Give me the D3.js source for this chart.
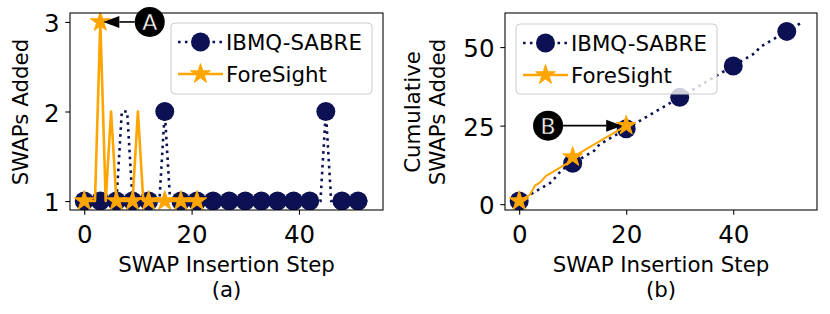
<!DOCTYPE html>
<html><head><meta charset="utf-8">
<script src="https://cdn.jsdelivr.net/npm/d3@7"></script>
<style>body{margin:0;background:#fff}svg{display:block;font-family:"DejaVu Sans",sans-serif}</style>
</head><body><svg id="c" width="830" height="314"></svg>
<script>
// ---- data ----
const seriesNames = ["IBMQ-SABRE", "ForeSight"];
// SWAPs added per insertion step (index = step)
const sabreAdded = [1,1,1,1,1,1,1,2,2,1, 1,1,1,1,1,2,1,1,1,1, 1,1,1,1,1,1,1,1,1,1,
                    1,1,1,1,1,1,1,1,1,1, 1,1,1,1,1,2,1,1,1,1, 1,1,1,1];
const foresightAdded = [1,1,1,3,1,2,1,1,1,1, 2,1,1,1,1,1,1,1,1,1, 1,1,1];
// cumulative SWAPs added (index = step)
const sabreCum = [1,2,3,4,5,6,7,9,11,12, 13,14,15,16,17,19,20,21,22,23, 24,25,26,27,28,29,30,31,32,33,
                  34,35,36,37,38,39,40,41,42,43, 44,45,46,47,48,50,51,52,53,54, 55,56,57,58];
const foresightCum = [1,2,3,6,7,9,10,11,12,13, 15,16,17,18,19,20,21,22,23,24, 25];
const xTicks = [0,20,40];
const yTicksA = [1,2,3];
const yTicksB = [0,25,50];

const NAVY = "#0b1152", ORANGE = "#ffa500";
const svg = d3.select("#c");
const FONT_TICK = 24.5, FONT_LAB = 21.33;

function panel(opt){
  const g = svg.append("g");
  const x = d3.scaleLinear().domain([-2.65,55.65]).range([opt.x0,opt.x1]);
  const y = d3.scaleLinear().domain(opt.yDom).range([opt.y1,opt.y0]);
  const cid = "clip"+opt.id;
  svg.append("clipPath").attr("id",cid).append("rect")
    .attr("x",opt.x0).attr("y",opt.y0).attr("width",opt.x1-opt.x0).attr("height",opt.y1-opt.y0);
  const plot = g.append("g").attr("clip-path",`url(#${cid})`);
  const line = d3.line().x((d,i)=>x(i)).y(d=>y(d));
  // SABRE
  plot.append("path").datum(opt.s1).attr("d",line).attr("fill","none")
    .attr("stroke",NAVY).attr("stroke-width",2.6).attr("stroke-dasharray","2.6 4.3");
  plot.selectAll(".m1").data(opt.s1.map((v,i)=>[i,v]).filter(d=>d[0]%opt.every===0)).enter()
    .append("circle").attr("cx",d=>x(d[0])).attr("cy",d=>y(d[1])).attr("r",9.5).attr("fill",NAVY);
  // ForeSight
  plot.append("path").datum(opt.s2).attr("d",line).attr("fill","none")
    .attr("stroke",ORANGE).attr("stroke-width",opt.lw2).attr("stroke-linejoin","round");
  const star = d3.symbol().type(d3.symbolStar).size(120);
  plot.selectAll(".m2").data(opt.s2.map((v,i)=>[i,v]).filter(d=>d[0]%opt.every===0)).enter()
    .append("path").attr("d",star).attr("transform",d=>`translate(${x(d[0])},${y(d[1])})`)
    .attr("fill",ORANGE).attr("stroke",ORANGE).attr("stroke-width",1);

  // annotation
  const a = opt.ann;
  const tx = x(a.px), ty = y(a.py);
  const cx = x(a.cx), cy = ty;
  const dir = Math.sign(tx-cx);
  const tip = tx - dir*a.gap;
  const base = tip - dir*16;
  g.append("line").attr("x1",cx+dir*15).attr("y1",cy).attr("x2",base).attr("y2",cy)
    .attr("stroke","#000").attr("stroke-width",1.6);
  g.append("path").attr("d",`M${tip},${cy} L${base},${cy-6} L${base},${cy+6} Z`).attr("fill","#000");
  g.append("circle").attr("cx",cx).attr("cy",cy).attr("r",15).attr("fill","#000");
  g.append("text").attr("x",cx).attr("y",cy+8).attr("text-anchor","middle")
    .attr("font-size",22).attr("fill","#fff").attr("stroke","#000").attr("stroke-width",0.4).text(a.label);

  // legend
  const L = opt.leg;
  g.append("rect").attr("x",L.x).attr("y",L.y).attr("width",L.w).attr("height",L.h).attr("rx",4)
    .attr("fill","#fff").attr("fill-opacity",0.8).attr("stroke","#cccccc").attr("stroke-width",1);
  const r1 = L.y+19, r2 = L.y+51;
  const lx0 = L.x+7, lx1 = L.x+52, lxm = (lx0+lx1)/2;
  g.append("line").attr("x1",lx0).attr("x2",lx1).attr("y1",r1).attr("y2",r1)
    .attr("stroke",NAVY).attr("stroke-width",2.6).attr("stroke-dasharray","2.6 4.3");
  g.append("circle").attr("cx",lxm).attr("cy",r1).attr("r",9.5).attr("fill",NAVY);
  g.append("line").attr("x1",lx0).attr("x2",lx1).attr("y1",r2).attr("y2",r2)
    .attr("stroke",ORANGE).attr("stroke-width",2.6);
  g.append("path").attr("d",star).attr("transform",`translate(${lxm},${r2})`).attr("fill",ORANGE).attr("stroke",ORANGE);
  g.append("text").attr("x",L.x+55).attr("y",r1+8).attr("font-size",FONT_LAB).text(seriesNames[0]);
  g.append("text").attr("x",L.x+55).attr("y",r2+8).attr("font-size",FONT_LAB).text(seriesNames[1]);

  // axes
  const xa = g.append("g").attr("transform",`translate(0,${opt.y1})`)
    .call(d3.axisBottom(x).tickValues(xTicks).tickFormat(d3.format("d")).tickSize(4.7).tickPadding(3));
  xa.select(".domain").remove();
  xa.selectAll("text").attr("font-size",FONT_TICK).attr("font-family","DejaVu Sans").attr("fill","#000").attr("dy",null).attr("y",33);
  xa.selectAll("line").attr("stroke","#000").attr("stroke-width",1.07);
  const ya = g.append("g").attr("transform",`translate(${opt.x0},0)`)
    .call(d3.axisLeft(y).tickValues(opt.yTicks).tickFormat(d3.format("d")).tickSize(4.7).tickPadding(6));
  ya.select(".domain").remove();
  ya.selectAll("text").attr("font-size",FONT_TICK).attr("font-family","DejaVu Sans").attr("fill","#000").attr("dy",null).attr("y",9.5).attr("x",-10.5);
  ya.selectAll("line").attr("stroke","#000").attr("stroke-width",1.07);
  g.append("rect").attr("x",opt.x0).attr("y",opt.y0).attr("width",opt.x1-opt.x0).attr("height",opt.y1-opt.y0)
    .attr("fill","none").attr("stroke","#000").attr("stroke-width",1.07);

  const mx = (opt.x0+opt.x1)/2;
  g.append("text").attr("x",mx).attr("y",272).attr("text-anchor","middle").attr("font-size",FONT_LAB).text("SWAP Insertion Step");
  g.append("text").attr("x",mx).attr("y",297).attr("text-anchor","middle").attr("font-size",FONT_LAB).text(opt.sub);
  const yl = g.append("text").attr("text-anchor","middle").attr("font-size",FONT_LAB)
    .attr("transform",`translate(${opt.ylx},112) rotate(-90)`);
  opt.ylab.forEach((t,i)=>yl.append("tspan").attr("x",0).attr("dy",i===0?0:25.6).text(t));
}

panel({id:"a", x0:70, x1:383, y0:13, y1:210, yDom:[0.9,3.1], yTicks:yTicksA,
  s1:sabreAdded, s2:foresightAdded, every:3, lw2:2.6,
  ann:{px:3, py:3, cx:12.2, gap:3, label:"A"},
  leg:{x:171, y:23, w:201, h:71}, sub:"(a)", ylab:["SWAPs Added"], ylx:27.5});
panel({id:"b", x0:505, x1:817, y0:13, y1:210, yDom:[-1.85,60.85], yTicks:yTicksB,
  s1:sabreCum, s2:foresightCum, every:10, lw2:2,
  ann:{px:20, py:25, cx:5.4, gap:4, label:"B"},
  leg:{x:516, y:24, w:201, h:70}, sub:"(b)", ylab:["Cumulative","SWAPs Added"], ylx:419.5});
</script></body></html>
